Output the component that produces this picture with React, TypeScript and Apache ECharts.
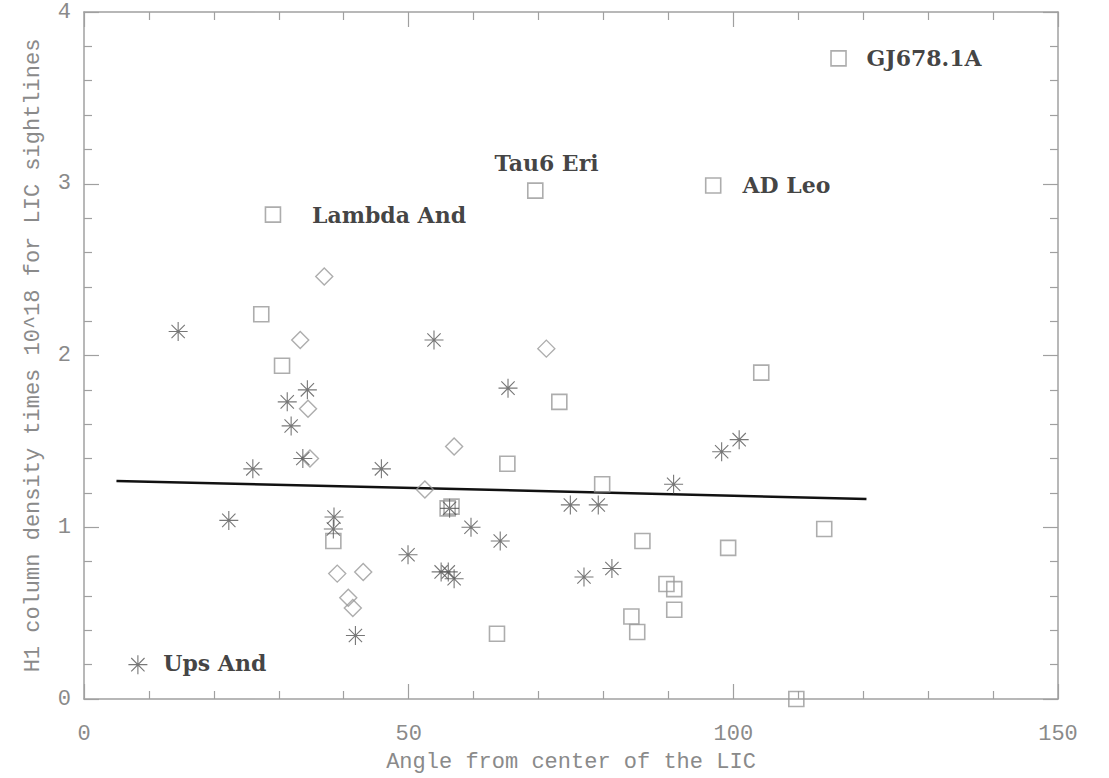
import React, { useEffect, useRef } from "react";
import * as echarts from "echarts";

// Squares (□)
const squareX = [116.2, 96.9, 69.5, 29.1, 27.3, 30.5, 73.2, 104.3, 65.2, 79.8, 38.4, 56.0, 56.6, 63.6, 86.0, 99.2, 114.0, 89.7, 90.9, 90.9, 84.3, 85.2, 109.7];
const squareY = [3.73, 2.99, 2.96, 2.82, 2.24, 1.94, 1.73, 1.9, 1.37, 1.25, 0.92, 1.11, 1.12, 0.38, 0.92, 0.88, 0.99, 0.67, 0.64, 0.52, 0.48, 0.39, 0.0];

// Asterisks (*)
const starX = [8.3, 14.5, 22.3, 26.0, 34.4, 31.3, 31.9, 33.7, 45.8, 53.9, 65.3, 90.8, 38.5, 38.4, 59.6, 64.1, 49.9, 55.0, 56.1, 57.0, 41.8, 98.2, 100.9, 74.9, 79.2, 77.0, 81.3, 56.3];
const starY = [0.2, 2.14, 1.04, 1.34, 1.8, 1.73, 1.59, 1.4, 1.34, 2.09, 1.81, 1.25, 1.06, 0.99, 1.0, 0.92, 0.84, 0.74, 0.74, 0.7, 0.37, 1.44, 1.51, 1.13, 1.13, 0.71, 0.76, 1.11];

// Diamonds (◇)
const diamondX = [37.0, 33.3, 34.5, 34.8, 71.2, 57.0, 52.5, 39.0, 43.0, 40.7, 41.4];
const diamondY = [2.46, 2.09, 1.69, 1.4, 2.04, 1.47, 1.22, 0.73, 0.74, 0.59, 0.53];

// Linear fit
const fitX = [5, 120.5];
const fitY = [1.27, 1.165];

// Star name annotations (anchor of text, left edge)
const labelNames = ["GJ678.1A", "AD Leo", "Tau6 Eri", "Lambda And", "Ups And"];
const labelX = [120.5, 101.4, 63.2, 35.1, 12.2];
const labelY = [3.73, 2.99, 3.12, 2.82, 0.21];

const xTicks = [0, 50, 100, 150];
const yTicks = [0, 1, 2, 3, 4];

const AXIS_FONT = "'Liberation Mono', 'DejaVu Sans Mono', monospace";
const LABEL_FONT = "'DejaVu Serif', serif";
const AXIS_GREY = "#a0a0a0";
const TEXT_GREY = "#8a8a8a";

const asterisk = "path://M0,10L20,10M10,0L10,20M3,3L17,17M17,3L3,17";

function zip(xs: number[], ys: number[]) {
  return xs.map((x, i) => [x, ys[i]]);
}

export default function App() {
  const ref = useRef<HTMLDivElement>(null);
  useEffect(() => {
    if (!ref.current) return;
    const chart = echarts.init(ref.current, undefined, { renderer: "svg" });
    const baseAxis = {
      type: "value" as const,
      axisLine: { show: true, onZero: false, lineStyle: { color: AXIS_GREY, width: 1.5 } },
      axisTick: { show: true, inside: true, length: 15, lineStyle: { color: AXIS_GREY, width: 1.2 } },
      minorTick: { show: true, splitNumber: 5, length: 8, lineStyle: { color: AXIS_GREY, width: 1.2 } },
      splitLine: { show: false },
      minorSplitLine: { show: false },
    };
    chart.setOption({
      animation: false,
      backgroundColor: "#ffffff",
      grid: { left: 84, right: 51, top: 12, bottom: 75, containLabel: false },
      xAxis: [
        {
          ...baseAxis,
          position: "bottom",
          min: xTicks[0],
          max: xTicks[xTicks.length - 1],
          interval: 50,
          name: "Angle from center of the LIC",
          nameLocation: "middle",
          nameGap: 52,
          nameTextStyle: { fontFamily: AXIS_FONT, fontSize: 22, color: TEXT_GREY },
          axisLabel: { show: true, margin: 24, fontFamily: AXIS_FONT, fontSize: 22, color: TEXT_GREY },
        },
        {
          ...baseAxis,
          position: "top",
          min: xTicks[0],
          max: xTicks[xTicks.length - 1],
          interval: 50,
          axisLabel: { show: false },
        },
      ],
      yAxis: [
        {
          ...baseAxis,
          position: "left",
          min: yTicks[0],
          max: yTicks[yTicks.length - 1],
          interval: 1,
          name: "H1 column density times 10^18 for LIC sightlines",
          nameLocation: "middle",
          nameGap: 40,
          nameRotate: 90,
          nameTextStyle: { fontFamily: AXIS_FONT, fontSize: 22, color: TEXT_GREY },
          axisLabel: { show: true, margin: 13, fontFamily: AXIS_FONT, fontSize: 22, color: TEXT_GREY },
        },
        {
          ...baseAxis,
          position: "right",
          min: yTicks[0],
          max: yTicks[yTicks.length - 1],
          interval: 1,
          axisLabel: { show: false },
        },
      ],
      series: [
        {
          type: "line",
          data: zip(fitX, fitY),
          symbol: "none",
          lineStyle: { color: "#111", width: 2.5 },
          z: 1,
        },
        {
          type: "scatter",
          data: zip(squareX, squareY),
          symbol: "rect",
          symbolSize: 15,
          itemStyle: { color: "rgba(255,255,255,0)", borderColor: "#999", borderWidth: 1.6 },
          z: 3,
        },
        {
          type: "scatter",
          data: zip(diamondX, diamondY),
          symbol: "diamond",
          symbolSize: [17, 17],
          itemStyle: { color: "rgba(255,255,255,0)", borderColor: "#999", borderWidth: 1.4 },
          z: 3,
        },
        {
          type: "scatter",
          data: zip(starX, starY),
          symbol: asterisk,
          symbolSize: 19,
          itemStyle: { color: "rgba(255,255,255,0)", borderColor: "#555", borderWidth: 1.1 },
          z: 4,
        },
        {
          type: "scatter",
          data: labelNames.map((n, i) => ({ value: [labelX[i], labelY[i]], name: n })),
          symbolSize: 0,
          label: {
            show: true,
            position: "inside",
            align: "left",
            verticalAlign: "middle",
            formatter: (p: any) => p.name,
            fontFamily: LABEL_FONT,
            fontWeight: "bold",
            fontSize: 22,
            color: "#111",
          },
          z: 5,
        },
      ],
    });
    return () => chart.dispose();
  }, []);
  return (
    <div
      ref={ref}
      style={{ position: "fixed", left: 0, top: 0, width: 1109, height: 778 }}
    />
  );
}
